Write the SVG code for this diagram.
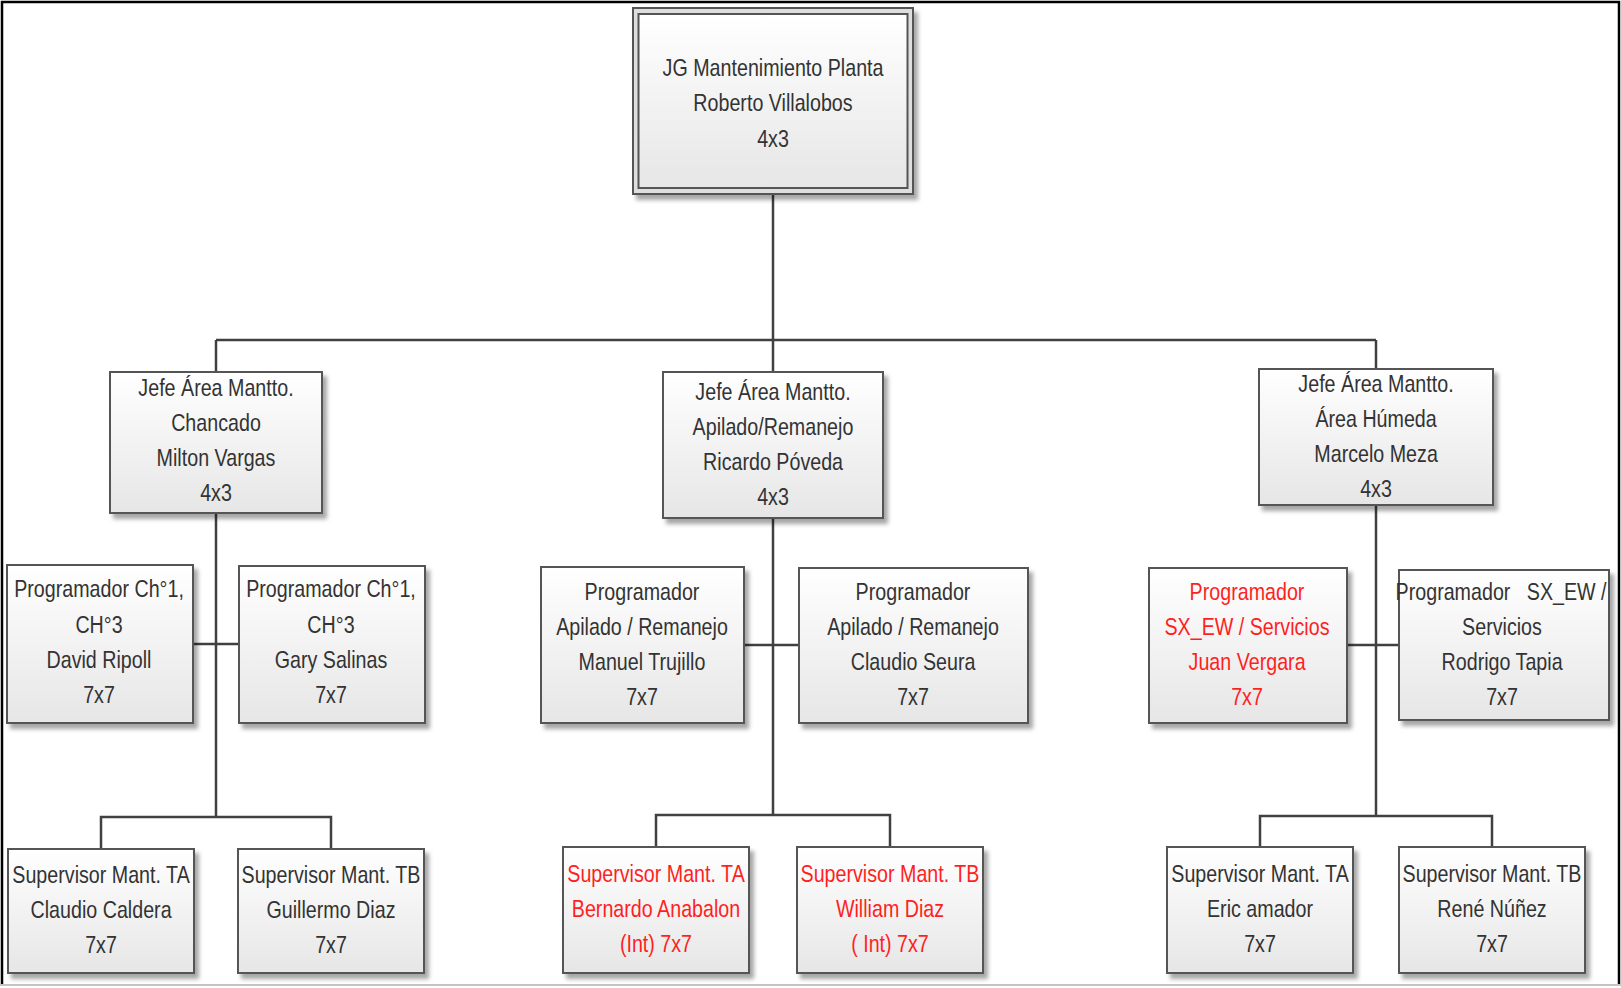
<svg xmlns="http://www.w3.org/2000/svg" width="1621" height="988" viewBox="0 0 1621 988">
  <style>
    .box { fill: url(#boxFill); stroke: #555555; stroke-width: 2; filter: url(#shadow); }
    .band { fill: #dedede; stroke: #555555; stroke-width: 2; filter: url(#shadow); }
    .inner { fill: url(#boxFill); stroke: #555555; stroke-width: 2; }
    /* narrow face emulated by squeezing each line around its own centre */
    .lbl { font-family: "Liberation Sans", Arial, sans-serif; font-size: 24px; fill: #333333; text-anchor: middle;
           transform-box: fill-box; transform-origin: center; transform: scaleX(0.82); }
    .red { fill: #ff1f1f; }
    .wire { fill: none; stroke: #404040; stroke-width: 2.5; stroke-linejoin: miter; }
  </style>
  <defs>
    <linearGradient id="boxFill" x1="0" y1="0" x2="0" y2="1">
      <stop offset="0" stop-color="#ffffff"/>
      <stop offset="1" stop-color="#e6e6e6"/>
    </linearGradient>
    <filter id="shadow" x="-10%" y="-10%" width="125%" height="130%">
      <feDropShadow dx="4" dy="5" stdDeviation="2" flood-color="#000000" flood-opacity="0.35"/>
    </filter>
  </defs>

  <!-- page frame -->
  <rect x="0" y="0" width="1621" height="988" fill="#ffffff"/>
  <path d="M2,986 V2 H1619 V986" fill="none" stroke="#000000" stroke-width="2.5"/>
  <line x1="0" y1="985" x2="1621" y2="985" stroke="#c4c4c4" stroke-width="2"/>

  <!-- connectors -->
  <g id="connectors" class="wire">
    <path d="M773,194 V372"/>
    <path d="M216,340 H1376"/>
    <path d="M216,340 V372"/>
    <path d="M1376,340 V369"/>
    <!-- Chancado branch -->
    <path d="M216,513 V817"/>
    <path d="M193,644 H239"/>
    <path d="M101,849 V817 H331 V849"/>
    <!-- Apilado/Remanejo branch -->
    <path d="M773,518 V815"/>
    <path d="M744,645 H799"/>
    <path d="M656,847 V815 H890 V847"/>
    <!-- Área Húmeda branch -->
    <path d="M1376,505 V816"/>
    <path d="M1347,645 H1399"/>
    <path d="M1260,847 V816 H1492 V847"/>
  </g>

  <!-- top node -->
  <g id="jg-planta">
    <rect class="band" x="633" y="8" width="280" height="186"/>
    <rect class="inner" x="638.5" y="14" width="269" height="174"/>
    <text class="lbl" x="773" y="76">JG Mantenimiento Planta</text>
    <text class="lbl" x="773" y="111.5">Roberto Villalobos</text>
    <text class="lbl" x="773" y="147">4x3</text>
  </g>

  <!-- area heads -->
  <g id="jefe-chancado">
    <rect class="box" x="110" y="372" width="212" height="141"/>
    <text class="lbl" x="216" y="396">Jefe Área Mantto.</text>
    <text class="lbl" x="216" y="431">Chancado</text>
    <text class="lbl" x="216" y="466">Milton Vargas</text>
    <text class="lbl" x="216" y="501">4x3</text>
  </g>
  <g id="jefe-apilado">
    <rect class="box" x="663" y="372" width="220" height="146"/>
    <text class="lbl" x="773" y="400">Jefe Área Mantto.</text>
    <text class="lbl" x="773" y="435">Apilado/Remanejo</text>
    <text class="lbl" x="773" y="470">Ricardo Póveda</text>
    <text class="lbl" x="773" y="505">4x3</text>
  </g>
  <g id="jefe-humeda">
    <rect class="box" x="1259" y="369" width="234" height="136"/>
    <text class="lbl" x="1376" y="392">Jefe Área Mantto.</text>
    <text class="lbl" x="1376" y="427">Área Húmeda</text>
    <text class="lbl" x="1376" y="462">Marcelo Meza</text>
    <text class="lbl" x="1376" y="497">4x3</text>
  </g>

  <!-- programmers -->
  <g id="prog-ripoll">
    <rect class="box" x="7" y="565" width="186" height="158"/>
    <text class="lbl" x="99" y="597">Programador Ch°1,</text>
    <text class="lbl" x="99" y="633">CH°3</text>
    <text class="lbl" x="99" y="668">David Ripoll</text>
    <text class="lbl" x="99" y="703">7x7</text>
  </g>
  <g id="prog-salinas">
    <rect class="box" x="239" y="566" width="186" height="157"/>
    <text class="lbl" x="331" y="597">Programador Ch°1,</text>
    <text class="lbl" x="331" y="633">CH°3</text>
    <text class="lbl" x="331" y="668">Gary Salinas</text>
    <text class="lbl" x="331" y="703">7x7</text>
  </g>
  <g id="prog-trujillo">
    <rect class="box" x="541" y="567" width="203" height="156"/>
    <text class="lbl" x="642" y="600">Programador</text>
    <text class="lbl" x="642" y="635">Apilado / Remanejo</text>
    <text class="lbl" x="642" y="670">Manuel Trujillo</text>
    <text class="lbl" x="642" y="705">7x7</text>
  </g>
  <g id="prog-seura">
    <rect class="box" x="799" y="568" width="229" height="155"/>
    <text class="lbl" x="913" y="600">Programador</text>
    <text class="lbl" x="913" y="635">Apilado / Remanejo</text>
    <text class="lbl" x="913" y="670">Claudio Seura</text>
    <text class="lbl" x="913" y="705">7x7</text>
  </g>
  <g id="prog-vergara">
    <rect class="box" x="1149" y="568" width="198" height="155"/>
    <text class="lbl red" x="1247" y="600">Programador</text>
    <text class="lbl red" x="1247" y="635">SX_EW / Servicios</text>
    <text class="lbl red" x="1247" y="670">Juan Vergara</text>
    <text class="lbl red" x="1247" y="705">7x7</text>
  </g>
  <g id="prog-tapia">
    <rect class="box" x="1399" y="570" width="210" height="150"/>
    <text class="lbl" x="1501" y="600" xml:space="preserve">Programador   SX_EW /</text>
    <text class="lbl" x="1502" y="635">Servicios</text>
    <text class="lbl" x="1502" y="670">Rodrigo Tapia</text>
    <text class="lbl" x="1502" y="705">7x7</text>
  </g>

  <!-- shift supervisors -->
  <g id="sup-caldera">
    <rect class="box" x="8" y="849" width="186" height="124"/>
    <text class="lbl" x="101" y="883">Supervisor Mant. TA</text>
    <text class="lbl" x="101" y="918">Claudio Caldera</text>
    <text class="lbl" x="101" y="953">7x7</text>
  </g>
  <g id="sup-diaz-g">
    <rect class="box" x="238" y="849" width="186" height="124"/>
    <text class="lbl" x="331" y="883">Supervisor Mant. TB</text>
    <text class="lbl" x="331" y="918">Guillermo Diaz</text>
    <text class="lbl" x="331" y="953">7x7</text>
  </g>
  <g id="sup-anabalon">
    <rect class="box" x="563" y="847" width="186" height="126"/>
    <text class="lbl red" x="656" y="882">Supervisor Mant. TA</text>
    <text class="lbl red" x="656" y="917">Bernardo Anabalon</text>
    <text class="lbl red" x="656" y="952">(Int) 7x7</text>
  </g>
  <g id="sup-diaz-w">
    <rect class="box" x="797" y="847" width="186" height="126"/>
    <text class="lbl red" x="890" y="882">Supervisor Mant. TB</text>
    <text class="lbl red" x="890" y="917">William Diaz</text>
    <text class="lbl red" x="890" y="952">( Int) 7x7</text>
  </g>
  <g id="sup-amador">
    <rect class="box" x="1167" y="847" width="186" height="126"/>
    <text class="lbl" x="1260" y="882">Supervisor Mant. TA</text>
    <text class="lbl" x="1260" y="917">Eric amador</text>
    <text class="lbl" x="1260" y="952">7x7</text>
  </g>
  <g id="sup-nunez">
    <rect class="box" x="1399" y="847" width="186" height="126"/>
    <text class="lbl" x="1492" y="882">Supervisor Mant. TB</text>
    <text class="lbl" x="1492" y="917">René Núñez</text>
    <text class="lbl" x="1492" y="952">7x7</text>
  </g>
</svg>
